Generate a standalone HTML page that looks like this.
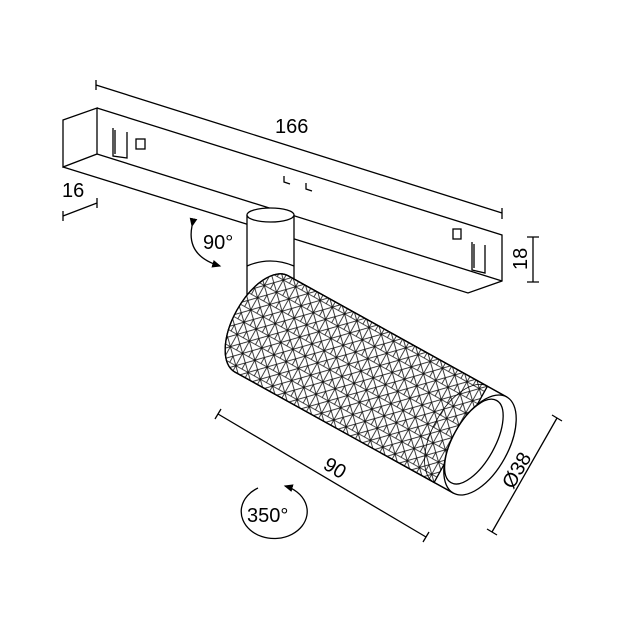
<!DOCTYPE html>
<html><head><style>html,body{margin:0;padding:0;background:#fff}svg{display:block}</style></head><body>
<svg width="623" height="623" viewBox="0 0 623 623" xmlns="http://www.w3.org/2000/svg" font-family="Liberation Sans, sans-serif">
<defs>
<pattern id="kn" width="14" height="14" patternUnits="userSpaceOnUse" x="0" y="-7">
<path d="M0 0L14 0L14 14L0 14Z M0 0L7 7L14 0 M0 14L7 7L14 14 M7 7L7 14" fill="none" stroke="#111" stroke-width="0.8"/>
</pattern>
<marker id="ah" markerWidth="8" markerHeight="8" refX="6" refY="4" orient="auto"><path d="M0 1L7 4L0 7Z" fill="#000"/></marker>
</defs>
<g stroke="#000" stroke-width="1.3" fill="none">
<path d="M63 120L97 108L97 154L63 167Z" fill="#fff"/>
<path d="M97 108L502 235L502 281L468 293L63 167 M97 154L502 281"/>
<path d="M113 128L113 156L127 158L127 132 M115 130L115 154"/>
<rect x="136" y="139" width="9" height="10"/>
<path d="M284 176L284 182L290 184 M306 183L306 189L312 191"/>
<rect x="453" y="229" width="8" height="10"/>
<path d="M472 242L472 270L485 273L485 245 M474 244L474 268"/>
<path d="M96 85L502 213 M96 80L96 90 M502 208L502 219"/>
<path d="M63 216L97 203 M63 211L63 221 M97 198L97 208"/>
<path d="M533 237L533 282 M527 237L539 237 M527 282L539 282"/>
<path d="M218 414L426 537 M215 419L221 409 M423 542L429 532"/>
<path d="M557 418L492 532 M552 415L562 421 M487 529L497 535"/>
<rect x="247" y="215" width="47" height="110" fill="#fff" stroke="none"/>
<path d="M247 215L247 330 M294 215L294 300"/>
<ellipse cx="270.5" cy="215" rx="23.5" ry="7" fill="#fff"/>
<path d="M247 266Q270 256 294 266"/>
<g transform="translate(480 445) rotate(29)">
<path d="M-250 -55L0 -55L0 55L-250 55A28 55 0 0 1 -250 -55Z" fill="#fff"/>
<path d="M-250 -55L-22 -55L-22 55L-250 55A28 55 0 0 1 -250 -55Z" fill="url(#kn)" stroke="#000"/>
<path d="M-22 -55A28 55 0 0 0 -22 55" stroke-width="0.8"/>
<path d="M-250 -55L0 -55 M-250 55L0 55"/>
<ellipse cx="0" cy="0" rx="28" ry="55" fill="#fff"/>
<ellipse cx="-7" cy="0" rx="21" ry="47"/>
</g>
<path d="M192 226Q186 256 220 266" marker-end="url(#ah)" marker-start="url(#ah)"/>
<path d="M258 488A33 27 0 1 0 285 486" marker-end="url(#ah)"/>
</g>
<g font-size="20" fill="#000">
<text x="275" y="133">166</text>
<text x="62" y="197">16</text>
<text x="203" y="249">90°</text>
<text x="247" y="522">350°</text>
<text transform="translate(527 270) rotate(-90)">18</text>
<text transform="translate(322 468) rotate(31)">90</text>
<text transform="translate(513 490) rotate(-60)">Ø38</text>
</g>
</svg>
</body></html>
